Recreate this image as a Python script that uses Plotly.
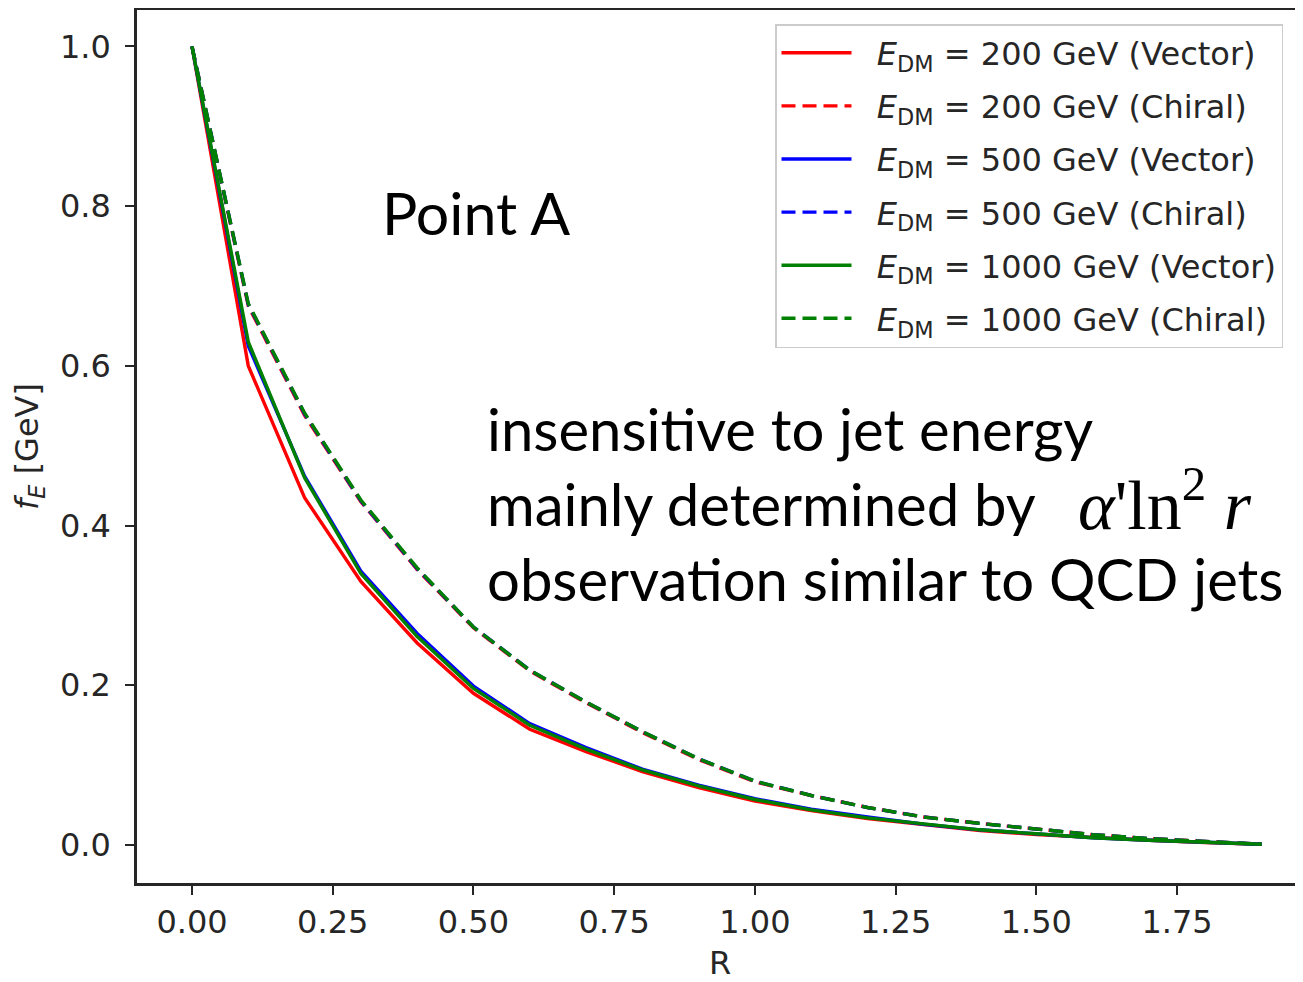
import plotly.graph_objects as go

R = [0.0, 0.1, 0.2, 0.3, 0.4, 0.5, 0.6, 0.7, 0.8, 0.9, 1.0,
     1.1, 1.2, 1.3, 1.4, 1.5, 1.6, 1.7, 1.8, 1.9]

vec_200 = [1.0, 0.600, 0.435, 0.330, 0.253, 0.190, 0.145, 0.117, 0.092, 0.072, 0.055,
           0.043, 0.033, 0.025, 0.018, 0.013, 0.009, 0.006, 0.003, 0.001]
chi_200 = [1.0, 0.675, 0.538, 0.430, 0.345, 0.272, 0.218, 0.178, 0.141, 0.107, 0.079,
           0.062, 0.047, 0.035, 0.027, 0.020, 0.013, 0.008, 0.004, 0.001]
vec_500 = [1.0, 0.625, 0.462, 0.343, 0.265, 0.199, 0.152, 0.122, 0.095, 0.075, 0.058,
           0.045, 0.035, 0.026, 0.019, 0.014, 0.009, 0.006, 0.003, 0.001]
chi_500 = [1.0, 0.677, 0.540, 0.431, 0.346, 0.273, 0.219, 0.179, 0.142, 0.108, 0.080,
           0.062, 0.047, 0.035, 0.027, 0.020, 0.013, 0.008, 0.004, 0.001]
vec_1000 = [1.0, 0.630, 0.460, 0.340, 0.261, 0.196, 0.150, 0.120, 0.094, 0.074, 0.057,
            0.044, 0.034, 0.026, 0.019, 0.014, 0.009, 0.006, 0.003, 0.001]
chi_1000 = [1.0, 0.678, 0.541, 0.432, 0.347, 0.273, 0.219, 0.179, 0.142, 0.108, 0.080,
            0.062, 0.047, 0.035, 0.027, 0.020, 0.013, 0.008, 0.004, 0.001]

energies = ["200", "200", "500", "500", "1000", "1000"]
models = ["Vector", "Chiral", "Vector", "Chiral", "Vector", "Chiral"]
series = [vec_200, chi_200, vec_500, chi_500, vec_1000, chi_1000]
colors = ["#ff0000", "#ff0000", "#0000ff", "#0000ff", "#008000", "#008000"]

x_ticks = [0.0, 0.25, 0.5, 0.75, 1.0, 1.25, 1.5, 1.75]
x_tick_text = ["0.00", "0.25", "0.50", "0.75", "1.00", "1.25", "1.50", "1.75"]
y_ticks = [0.0, 0.2, 0.4, 0.6, 0.8, 1.0]
y_tick_text = ["0.0", "0.2", "0.4", "0.6", "0.8", "1.0"]

fig = go.Figure()
for i, (e, m, ys, c) in enumerate(zip(energies, models, series, colors)):
    fig.add_trace(go.Scatter(
        x=R, y=ys, mode="lines",
        name=f"&nbsp;&nbsp;<i>E</i><sub>DM</sub> = {e} GeV ({m})",
        legendgroup=f"g{i}",
        line=dict(color=c, width=3.4,
                  dash="solid" if m == "Vector" else "14px,7px"),
    ))

# figure is offset by the page's 8px body margin
W, H = 1295, 974
L, T, B = 129, 2, 99
PW, PH = W - L, H - T - B

def px(xp):
    return (xp - 8 - L) / PW

def py(yp):
    return 1 - (yp - 8 - T) / PH

axis_font = dict(family="DejaVu Sans", size=32, color="#262626")
fig.update_layout(
    width=W, height=H,
    margin=dict(l=L, r=0, t=T, b=B, autoexpand=False),
    plot_bgcolor="white", paper_bgcolor="white",
    showlegend=True,
    legend=dict(
        x=px(775), y=py(24), xanchor="left", yanchor="top",
        bgcolor="white", bordercolor="#cccccc", borderwidth=1.5,
        font=dict(family="DejaVu Sans", size=32, color="#262626"),
        itemwidth=70, tracegroupgap=8.5,
    ),
    xaxis=dict(
        range=[-0.0977, 1.9737], tickvals=x_ticks, ticktext=x_tick_text,
        showline=True, mirror=True, linecolor="#262626", linewidth=2.5,
        ticks="outside", ticklen=9, tickwidth=2, tickcolor="#262626",
        showgrid=False, zeroline=False, tickfont=axis_font, automargin=False,
        title=dict(text="R", font=dict(family="DejaVu Sans", size=32, color="#262626"),
                   standoff=20),
    ),
    yaxis=dict(
        range=[-0.0476, 1.0457], tickvals=y_ticks, ticktext=y_tick_text,
        showline=True, mirror=False, linecolor="#262626", linewidth=2.5,
        ticks="outside", ticklen=9, tickwidth=2, tickcolor="#262626",
        showgrid=False, zeroline=False, tickfont=axis_font, automargin=False,
        ticklabelstandoff=8,
        title=dict(text="<i>f</i><sub><i>E</i></sub> [GeV]",
                   font=dict(family="DejaVu Sans", size=32, color="#262626"),
                   standoff=18),
    ),
)

txt_font = dict(family="Lato", size=58, color="black")
fig.add_annotation(text="Point A", xref="paper", yref="paper",
                   x=px(380), y=py(212),
                   xanchor="left", yanchor="middle", showarrow=False,
                   font=dict(family="Lato", size=59, color="black"))
lines = ["insensitive to jet energy", "mainly determined by", "observation similar to QCD jets"]
ypix = [428, 503, 578]
for t, yp in zip(lines, ypix):
    fig.add_annotation(text=t, xref="paper", yref="paper",
                       x=px(485), y=py(yp),
                       xanchor="left", yanchor="middle", showarrow=False,
                       font=txt_font)
fig.add_annotation(text="<i>α</i>'ln<sup>2</sup> <i>r</i>", xref="paper", yref="paper",
                   x=px(1076), y=py(500),
                   xanchor="left", yanchor="middle", showarrow=False,
                   font=dict(family="Liberation Serif", size=70, color="black"))

fig.write_html("out.html")
